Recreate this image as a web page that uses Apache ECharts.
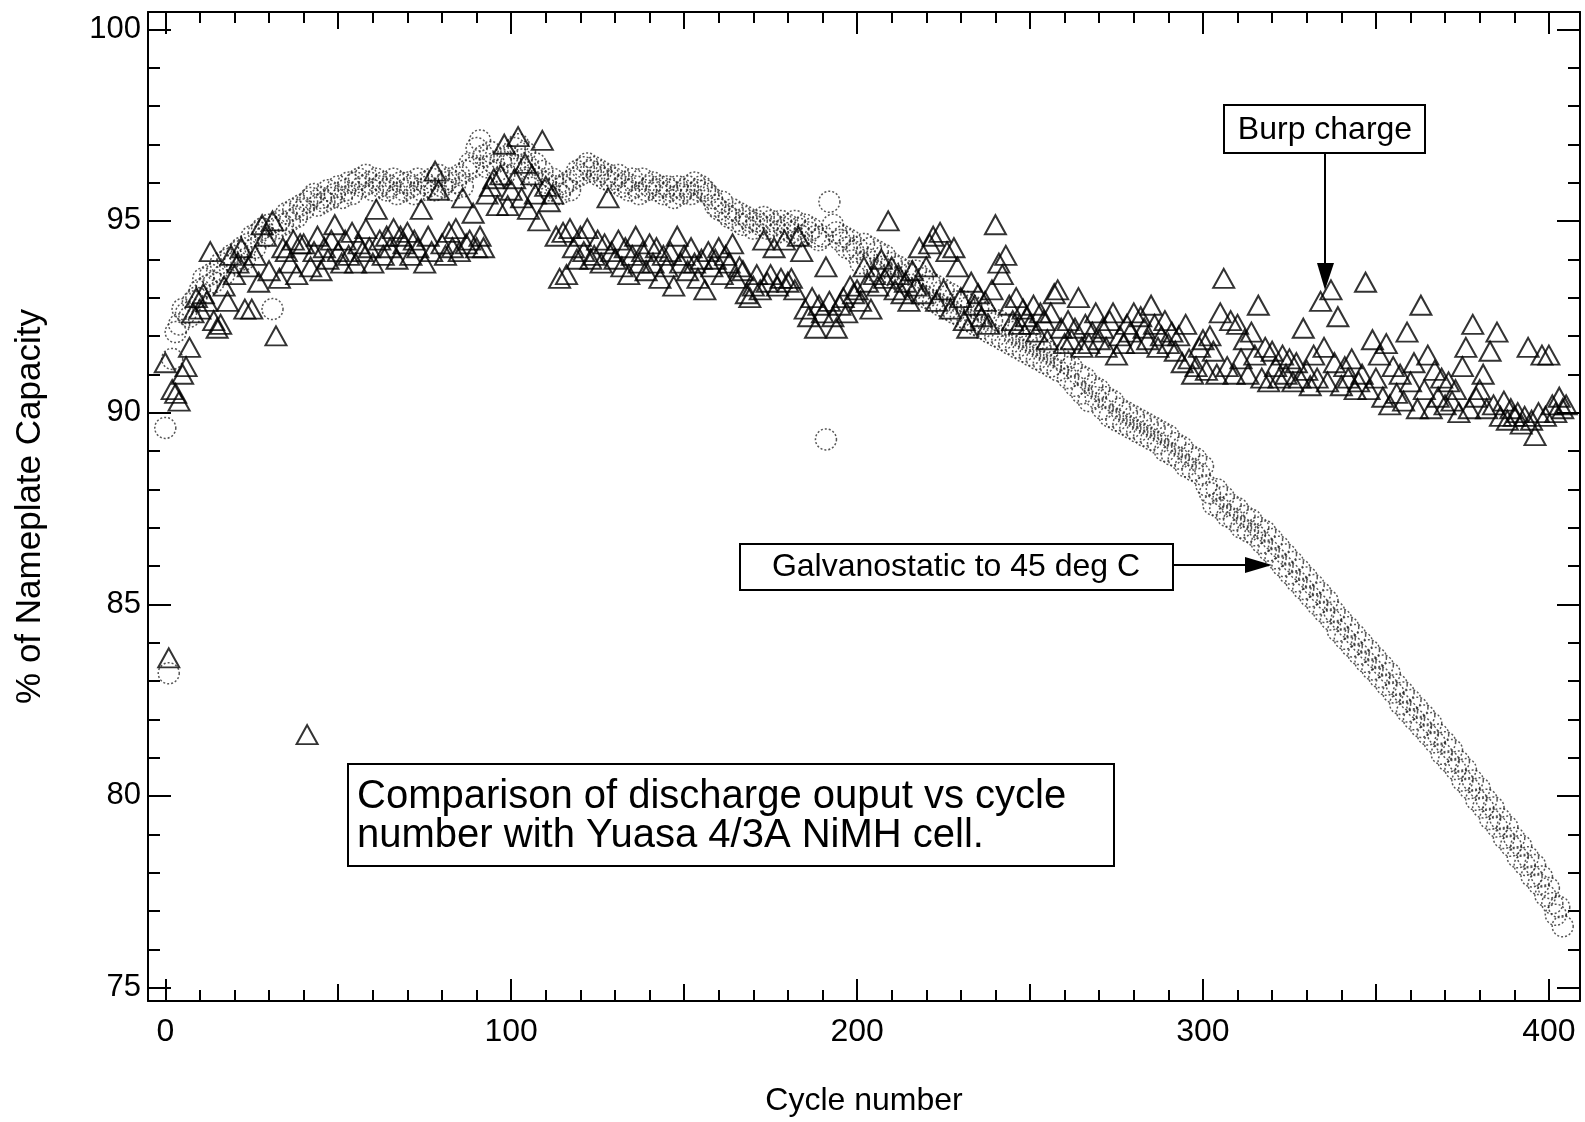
<!DOCTYPE html>
<html>
<head>
<meta charset="utf-8">
<title>Discharge output vs cycle number</title>
<script src="https://cdn.jsdelivr.net/npm/echarts@6.0.0/dist/echarts.min.js"></script>
<style>
  html, body { margin: 0; padding: 0; background: #fff; }
  #main { width: 1585px; height: 1122px; }
</style>
</head>
<body>
<div id="main"></div>
<script>
// % of nameplate capacity, one value per cycle (array index = cycle number)
var burpCharge = [
  91.3, 83.6, 90.6, 90.5, 90.3, 91.0, 91.2, 91.7, 92.6, 93.0,
  92.7, 93.1, 92.9, 94.2, 92.4, 92.2, 92.3, 93.3, 92.9, 94.1,
  93.6, 93.9, 94.3, 92.7, 93.8, 92.7, 94.1, 93.4, 94.9, 94.6,
  93.7, 95.0, 92.0, 93.5, 94.3, 94.2, 93.9, 94.5, 93.6, 94.4,
  94.4, 81.6, 93.8, 94.2, 94.6, 93.7, 94.3, 94.0, 94.5, 94.9,
  94.2, 93.9, 94.5, 94.1, 94.7, 93.9, 94.4, 94.2, 94.8, 94.3,
  93.9, 95.3, 94.5, 94.1, 94.6, 94.3, 94.8, 94.0, 94.6, 94.4,
  94.7, 94.1, 94.5, 94.3, 95.3, 93.9, 94.6, 94.2, 96.3, 95.8,
  94.4, 94.1, 94.7, 94.3, 94.8, 94.2, 95.6, 94.4, 94.5, 95.2,
  94.3, 94.6, 94.3, 95.7, 95.9, 96.1, 95.4, 96.2, 97.0, 95.4,
  95.8, 96.1, 97.2, 95.6, 96.5, 95.3, 96.2, 95.7, 95.0, 97.1,
  95.9, 95.5, 95.7, 94.6, 93.5, 94.7, 93.6, 94.8, 94.3, 94.0,
  94.6, 94.2, 94.8, 94.0, 94.1, 94.5, 93.9, 94.4, 95.6, 94.2,
  94.0, 94.5, 93.8, 94.3, 93.6, 94.1, 94.6, 93.9, 94.2, 93.7,
  94.4, 93.9, 94.3, 93.5, 94.1, 93.8, 94.2, 93.3, 94.6, 93.9,
  94.1, 93.7, 94.3, 93.9, 93.5, 94.0, 93.2, 94.2, 93.8, 94.0,
  94.3, 93.6, 94.1, 93.9, 94.4, 93.5, 93.8, 93.7, 93.1, 93.0,
  93.3, 93.6, 93.2, 94.5, 93.4, 93.6, 94.3, 93.3, 93.5, 94.5,
  93.4, 93.5, 93.2, 94.6, 94.2, 92.7, 92.5, 93.0, 92.2, 92.8,
  92.6, 93.8, 92.9, 92.5, 92.2, 92.8, 93.0, 92.6, 93.3, 93.1,
  93.2, 92.9, 93.8, 93.4, 92.7, 93.6, 93.3, 94.0, 93.5, 95.0,
  93.8, 93.2, 93.6, 93.1, 93.4, 92.9, 93.7, 93.3, 94.3, 93.1,
  93.8, 94.4, 94.6, 92.9, 94.7, 93.2, 94.2, 92.7, 94.3, 93.8,
  93.0, 92.4, 92.2, 93.4, 92.8, 93.1, 92.5, 92.9, 92.3, 93.2,
  94.9, 93.9, 93.6, 94.1, 92.8, 92.4, 93.0, 92.3, 92.7, 92.5,
  92.3, 92.8, 92.1, 92.6, 92.4, 91.9, 92.6, 93.1, 93.2, 92.2,
  91.8, 92.4, 91.9, 92.2, 93.0, 91.7, 92.3, 91.8, 92.1, 92.6,
  91.9, 92.2, 91.7, 92.4, 92.6, 91.5, 92.0, 91.8, 92.3, 92.1,
  92.6, 91.8, 92.5, 92.2, 91.9, 92.8, 92.3, 91.7, 92.0, 92.4,
  91.8, 92.1, 91.6, 92.0, 91.3, 92.3, 91.4, 91.0, 91.2, 91.7,
  91.9, 91.1, 92.0, 91.6, 91.0, 92.6, 93.5, 91.2, 92.4, 91.0,
  92.3, 91.4, 91.9, 91.0, 92.1, 91.5, 92.8, 90.9, 91.7, 90.8,
  91.6, 91.2, 90.9, 91.5, 91.0, 91.4, 90.8, 91.3, 90.9, 92.2,
  91.1, 90.7, 91.5, 90.9, 92.9, 91.7, 90.8, 93.2, 91.3, 92.5,
  90.7, 91.2, 90.9, 91.4, 90.6, 90.8, 91.0, 93.4, 90.6, 91.9,
  90.9, 91.5, 90.4, 91.8, 90.2, 91.2, 90.5, 91.0, 90.3, 92.1,
  90.8, 91.3, 90.1, 92.8, 90.6, 91.5, 90.1, 91.1, 90.4, 90.9,
  90.2, 90.8, 90.3, 90.6, 90.0, 91.2, 91.7, 90.1, 92.3, 90.4,
  90.6, 91.0, 90.1, 91.6, 90.2, 92.1, 89.9, 90.3, 89.8, 90.1,
  89.9, 90.0, 89.7, 89.9, 91.7, 89.8, 89.4, 90.0, 91.5, 89.9,
  91.5, 90.2, 90.0, 90.4, 90.1, 90.2
];

var galvanostatic = [
  89.6, 83.2, 91.4, 92.1, 92.3, 92.7, 92.6, 92.5, 92.9, 93.0,
  93.2, 93.5, 93.3, 93.6, 93.4, 93.7, 93.9, 93.6, 94.0, 94.1,
  93.9, 94.2, 94.3, 94.0, 94.4, 94.6, 94.3, 94.7, 94.8, 94.6,
  94.9, 92.7, 94.8, 95.0, 94.9, 95.2, 95.0, 95.3, 95.1, 95.4,
  95.3, 95.5, 95.6, 95.7, 95.4, 95.6, 95.5, 95.8, 95.6, 95.7,
  95.9, 95.6, 95.8, 96.0, 95.7, 96.0, 96.1, 95.9, 96.2, 96.0,
  95.8, 96.1, 95.9, 96.0, 95.8, 95.9, 96.1, 95.7, 96.0, 95.8,
  96.0, 95.9, 95.7, 96.1, 95.8, 96.0, 95.9, 96.1, 95.8, 96.2,
  95.9, 96.0, 96.1, 95.8, 96.0, 96.2, 95.9, 96.3, 96.5, 96.4,
  96.9, 97.1, 96.7, 96.4, 96.8, 96.5, 96.3, 96.6, 96.2, 96.7,
  96.5, 96.9, 97.0, 96.6, 96.8, 96.4, 96.2, 96.5, 96.1, 96.3,
  96.0, 95.8, 96.1, 95.9, 95.7, 95.9, 96.0, 95.8, 96.1, 96.3,
  96.2, 96.4, 96.5, 96.3, 96.4, 96.2, 96.3, 96.1, 96.2, 96.0,
  96.1, 96.2, 95.9, 96.0, 95.8, 96.1, 95.9, 95.7, 96.1, 95.8,
  95.9, 96.0, 95.8, 95.9, 95.7, 95.9, 95.8, 95.6, 95.9, 95.7,
  95.8, 95.9, 95.7, 96.0, 95.8, 95.9, 95.8, 95.7, 95.6, 95.4,
  95.3, 95.5, 95.2, 95.1, 95.3, 95.0, 95.2, 94.9, 95.1, 95.0,
  94.8, 95.0, 94.9, 95.1, 94.8, 95.0, 94.9, 94.7, 95.0, 94.8,
  94.9, 94.7, 95.0, 94.8, 94.6, 94.9, 94.7, 94.8, 94.6, 94.5,
  94.6, 89.3, 95.5, 94.9, 94.7, 94.5, 94.6, 94.3, 94.5, 94.2,
  94.3, 93.9, 94.4, 94.0, 94.3, 93.7, 94.2, 93.8, 94.1, 93.6,
  93.9, 93.5, 93.8, 93.4, 93.7, 93.6, 93.2, 93.7, 93.1, 93.5,
  93.0, 93.4, 92.9, 93.3, 92.8, 93.2, 92.7, 93.1, 92.6, 92.9,
  92.5, 92.9, 92.4, 92.8, 92.3, 92.7, 92.2, 92.6, 92.1, 92.4,
  92.0, 92.4, 91.9, 92.3, 91.8, 92.1, 91.7, 92.0, 91.6, 91.9,
  91.5, 91.8, 91.4, 91.7, 91.3, 91.6, 91.2, 91.5, 91.1, 91.4,
  91.3, 90.9, 91.2, 90.7, 91.0, 90.5, 90.9, 90.3, 90.7, 90.4,
  90.6, 90.1, 90.4, 89.9, 90.3, 89.8, 90.1, 89.7, 90.0, 89.6,
  89.9, 89.5, 89.8, 89.4, 89.7, 89.3, 89.6, 89.2, 89.5, 89.0,
  89.4, 88.9, 89.2, 88.8, 89.1, 88.6, 88.9, 88.5, 88.8, 88.4,
  88.6, 88.1, 87.9, 87.6, 88.0, 87.5, 87.8, 87.3, 87.6, 87.2,
  87.5, 87.0, 87.3, 86.9, 87.2, 86.8, 87.0, 86.6, 86.9, 86.4,
  86.7, 86.2, 86.5, 86.0, 86.3, 85.8, 86.1, 85.6, 85.9, 85.4,
  85.7, 85.2, 85.5, 85.0, 85.3, 84.8, 85.1, 84.6, 84.8, 84.3,
  84.6, 84.1, 84.4, 83.9, 84.2, 83.7, 84.0, 83.5, 83.8, 83.3,
  83.6, 83.1, 83.4, 82.9, 83.2, 82.7, 82.9, 82.4, 82.7, 82.2,
  82.5, 82.0, 82.3, 81.8, 82.1, 81.6, 81.9, 81.4, 81.6, 81.1,
  81.4, 80.9, 81.2, 80.7, 80.9, 80.4, 80.7, 80.2, 80.4, 79.9,
  80.2, 79.7, 79.9, 79.4, 79.7, 79.2, 79.4, 78.9, 79.2, 78.7,
  78.9, 78.4, 78.7, 78.2, 78.4, 77.9, 78.2, 77.7, 77.9, 77.4,
  77.6, 77.2, 76.9, 77.1, 76.6
];

var xMajorTicks = [0, 100, 200, 300, 400];
var xMidTicks = [50, 150, 250, 350];
var xMinorTicks = [10, 20, 30, 40, 60, 70, 80, 90, 110, 120, 130, 140, 160, 170, 180, 190,
  210, 220, 230, 240, 260, 270, 280, 290, 310, 320, 330, 340, 360, 370, 380, 390];
var yMajorTicks = [75, 80, 85, 90, 95, 100];
var yMinorTicks = [76, 77, 78, 79, 81, 82, 83, 84, 86, 87, 88, 89, 91, 92, 93, 94, 96, 97, 98, 99];

var FONT = "'Liberation Sans', Arial, Helvetica, sans-serif";
var X_MIN = -5, X_MAX = 409;
var Y_MIN = 74.65, Y_MAX = 100.45;

function xAxisOf(position, ticks, len, withLine, withLabel) {
  var ax = {
    type: 'value',
    position: position,
    min: X_MIN,
    max: X_MAX,
    axisLine: { show: withLine, onZero: false, lineStyle: { color: '#000', width: 2 } },
    axisTick: { show: true, inside: true, length: len, customValues: ticks, lineStyle: { color: '#000', width: 2 } },
    axisLabel: { show: false },
    splitLine: { show: false }
  };
  if (withLabel) {
    ax.axisLabel = { show: true, customValues: ticks, margin: 15, fontSize: 32, color: '#000', fontFamily: FONT };
    ax.name = 'Cycle number';
    ax.nameLocation = 'middle';
    ax.nameGap = 84;
    ax.nameTextStyle = { fontSize: 32, color: '#000', fontFamily: FONT };
  }
  return ax;
}

function yAxisOf(position, ticks, len, withLine, withLabel) {
  var ax = {
    type: 'value',
    position: position,
    min: Y_MIN,
    max: Y_MAX,
    axisLine: { show: withLine, onZero: false, lineStyle: { color: '#000', width: 2 } },
    axisTick: { show: true, inside: true, length: len, customValues: ticks, lineStyle: { color: '#000', width: 2 } },
    axisLabel: { show: false },
    splitLine: { show: false }
  };
  if (withLabel) {
    ax.axisLabel = { show: true, customValues: ticks, margin: 7, fontSize: 31, color: '#000', fontFamily: FONT };
    ax.name = '% of Nameplate Capacity';
    ax.nameLocation = 'middle';
    ax.nameGap = 100;
    ax.nameTextStyle = { fontSize: 35, color: '#000', fontFamily: FONT };
  }
  return ax;
}

var chart = echarts.init(document.getElementById('main'));

var option = {
  animation: false,
  backgroundColor: '#fff',
  grid: { left: 148, top: 12, width: 1432, height: 989, containLabel: false },
  xAxis: [
    xAxisOf('bottom', xMajorTicks, 22, true, true),
    xAxisOf('bottom', xMidTicks, 17, false, false),
    xAxisOf('bottom', xMinorTicks, 11, false, false),
    xAxisOf('top', xMajorTicks, 22, true, false),
    xAxisOf('top', xMidTicks, 17, false, false),
    xAxisOf('top', xMinorTicks, 11, false, false)
  ],
  yAxis: [
    yAxisOf('left', yMajorTicks, 23, true, true),
    yAxisOf('left', yMinorTicks, 12, false, false),
    yAxisOf('right', yMajorTicks, 23, true, false),
    yAxisOf('right', yMinorTicks, 12, false, false)
  ],
  series: [
    {
      name: 'Galvanostatic to 45 deg C',
      type: 'scatter',
      xAxisIndex: 0,
      yAxisIndex: 0,
      symbol: 'circle',
      symbolSize: 21,
      itemStyle: { color: 'rgba(0,0,0,0)', borderColor: '#2a2a2a', borderWidth: 1.5, borderType: [2, 2] },
      data: galvanostatic.map(function (v, i) { return [i, v]; }),
      z: 2
    },
    {
      name: 'Burp charge',
      type: 'scatter',
      xAxisIndex: 0,
      yAxisIndex: 0,
      symbol: 'triangle',
      symbolSize: [21, 19],
      itemStyle: { color: 'rgba(0,0,0,0)', borderColor: '#000', borderWidth: 2 },
      data: burpCharge.map(function (v, i) { return [i, v]; }),
      z: 3
    }
  ],
  graphic: [
    // Burp charge label + arrow
    { type: 'rect', z: 100, shape: { x: 1224, y: 105, width: 201, height: 48 },
      style: { fill: '#fff', stroke: '#000', lineWidth: 2 } },
    { type: 'text', z: 101, x: 1325, y: 130,
      style: { text: 'Burp charge', fontSize: 32, fontFamily: FONT, fill: '#000', align: 'center', verticalAlign: 'middle' } },
    { type: 'line', z: 100, shape: { x1: 1325, y1: 153, x2: 1325, y2: 266 },
      style: { stroke: '#000', lineWidth: 2 } },
    { type: 'polygon', z: 100, shape: { points: [[1317, 263], [1334, 263], [1325, 290]] },
      style: { fill: '#000' } },

    // Galvanostatic label + arrow
    { type: 'rect', z: 100, shape: { x: 740, y: 544, width: 433, height: 46 },
      style: { fill: '#fff', stroke: '#000', lineWidth: 2 } },
    { type: 'text', z: 101, x: 956, y: 567,
      style: { text: 'Galvanostatic to 45 deg C', fontSize: 32, fontFamily: FONT, fill: '#000', align: 'center', verticalAlign: 'middle' } },
    { type: 'line', z: 100, shape: { x1: 1173, y1: 565, x2: 1248, y2: 565 },
      style: { stroke: '#000', lineWidth: 2 } },
    { type: 'polygon', z: 100, shape: { points: [[1245, 557], [1245, 573], [1272, 565]] },
      style: { fill: '#000' } },

    // description box
    { type: 'rect', z: 100, shape: { x: 348, y: 764, width: 766, height: 102 },
      style: { fill: '#fff', stroke: '#000', lineWidth: 2 } },
    { type: 'text', z: 101, x: 357, y: 797,
      style: { text: 'Comparison of discharge ouput vs cycle', fontSize: 40, fontFamily: FONT, fill: '#000', align: 'left', verticalAlign: 'middle' } },
    { type: 'text', z: 101, x: 357, y: 836,
      style: { text: 'number with Yuasa 4/3A NiMH cell.', fontSize: 40, fontFamily: FONT, fill: '#000', align: 'left', verticalAlign: 'middle' } }
  ]
};

chart.setOption(option);
</script>
</body>
</html>
